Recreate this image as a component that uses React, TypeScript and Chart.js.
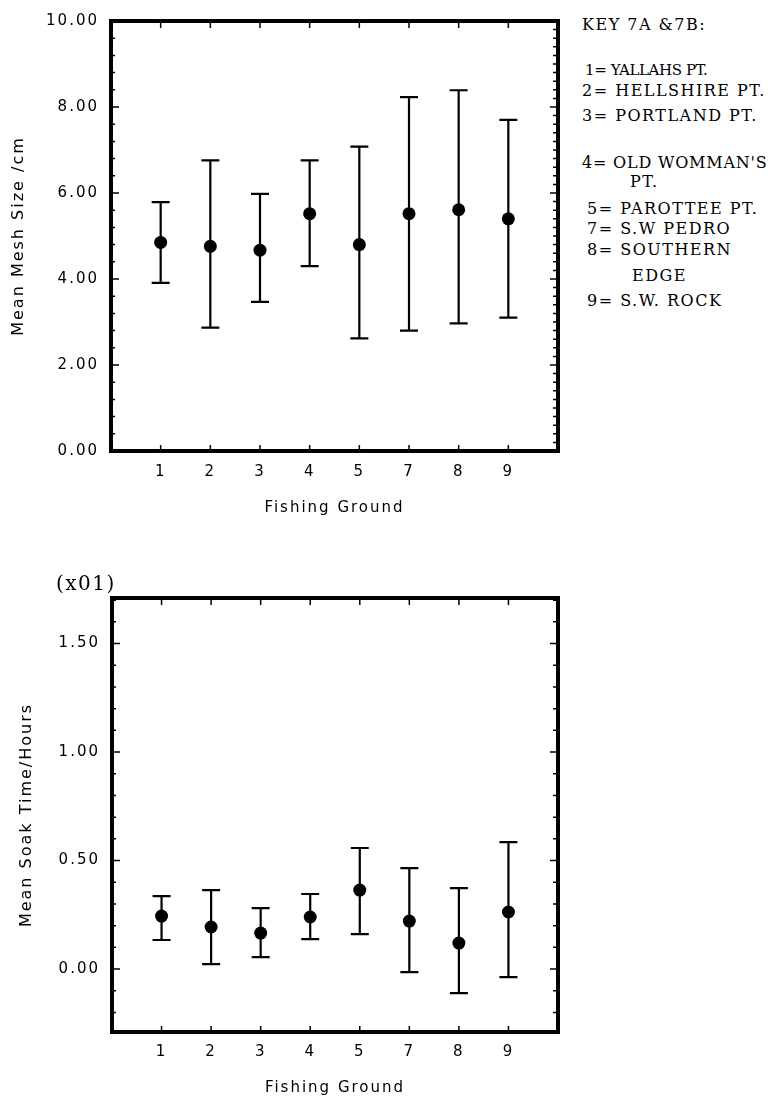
import { useEffect, useRef } from 'react';
import { Chart, registerables } from 'chart.js';

Chart.register(...registerables);

// ---- data ----
const groundLabels = ['1', '2', '3', '4', '5', '7', '8', '9'];

const meshMean = [4.85, 4.76, 4.67, 5.52, 4.8, 5.52, 5.61, 5.4];
const meshUpper = [5.79, 6.76, 5.98, 6.76, 7.08, 8.23, 8.39, 7.7];
const meshLower = [3.91, 2.87, 3.47, 4.3, 2.62, 2.8, 2.97, 3.1];
const meshTicks = [0, 2, 4, 6, 8, 10];

const soakMean = [0.244, 0.194, 0.166, 0.24, 0.364, 0.221, 0.12, 0.263];
const soakUpper = [0.336, 0.364, 0.281, 0.346, 0.558, 0.465, 0.373, 0.585];
const soakLower = [0.134, 0.023, 0.055, 0.138, 0.161, -0.014, -0.111, -0.037];
const soakTicks = [0, 0.5, 1.0, 1.5];

const keyLines = [
  'KEY 7A &7B:',
  '1= YALLAHS PT.',
  '2= HELLSHIRE PT.',
  '3= PORTLAND PT.',
  "4= OLD WOMMAN'S",
  'PT.',
  '5= PAROTTEE PT.',
  '7= S.W PEDRO',
  '8= SOUTHERN',
  'EDGE',
  '9= S.W. ROCK',
];
// layout for key lines: [left, centerY, fontSize, letterSpacing]
const keyLayout: [number, number, number, number][] = [
  [582, 25, 16, 1.5],
  [585, 70, 15, -0.4],
  [582, 91, 16, 1.5],
  [582, 116, 16, 1.5],
  [582, 163, 16, 0.8],
  [630, 182, 16, 1.5],
  [587, 209, 16, 1.5],
  [587, 229, 16, 1.5],
  [587, 250, 16, 1.5],
  [632, 276, 16, 1.5],
  [587, 301, 16, 1.5],
];

const SANS = 'DejaVu Sans';

type Spec = {
  means: number[];
  upper: number[];
  lower: number[];
  yTicks: number[];
  yMin: number;
  yMax: number;
  yTitle: string;
  padTop: number;
  padRight: number;
  yAxisWidth: number;
  xAxisHeight: number;
  xTickPad: number;
  xTitlePad: number;
  yTitlePad: number;
  major: number;
  minorLeft: number;
  minorRight: number;
};

function makePlugin(spec: Spec) {
  return {
    id: 'frameTicks',
    beforeDraw(chart: any) {
      chart.ctx.letterSpacing = '2px';
    },
    afterDatasetsDraw(chart: any) {
      const { ctx, chartArea: a, scales } = chart;
      const x = scales.x;
      const y = scales.y;
      ctx.save();
      ctx.letterSpacing = '0px';
      ctx.strokeStyle = '#000';
      ctx.lineCap = 'butt';
      // error bars
      ctx.lineWidth = 2.2;
      for (let i = 0; i < spec.means.length; i++) {
        const px = x.getPixelForValue(i + 1);
        const yu = y.getPixelForValue(spec.upper[i]);
        const yl = y.getPixelForValue(spec.lower[i]);
        ctx.beginPath();
        ctx.moveTo(px, yu);
        ctx.lineTo(px, yl);
        ctx.moveTo(px - 9, yu);
        ctx.lineTo(px + 9, yu);
        ctx.moveTo(px - 9, yl);
        ctx.lineTo(px + 9, yl);
        ctx.stroke();
      }
      // axis ticks
      ctx.lineWidth = 1.5;
      const isMajor = (v: number) => Math.abs(v / spec.major - Math.round(v / spec.major)) < 1e-6;
      const drawSide = (step: number, side: 'left' | 'right') => {
        const k0 = Math.ceil(y.min / step - 1e-9);
        const k1 = Math.floor(y.max / step + 1e-9);
        ctx.beginPath();
        for (let k = k0; k <= k1; k++) {
          const v = k * step;
          const py = y.getPixelForValue(v);
          const len = isMajor(v) ? 8 : side === 'left' ? 4 : 5;
          if (side === 'left') {
            ctx.moveTo(a.left, py);
            ctx.lineTo(a.left + len, py);
          } else {
            ctx.moveTo(a.right, py);
            ctx.lineTo(a.right - len, py);
          }
        }
        ctx.stroke();
      };
      drawSide(spec.minorLeft, 'left');
      drawSide(spec.minorRight, 'right');
      ctx.beginPath();
      for (let i = 0; i < groundLabels.length; i++) {
        const px = x.getPixelForValue(i + 1);
        ctx.moveTo(px, a.top);
        ctx.lineTo(px, a.top + 7);
        ctx.moveTo(px, a.bottom);
        ctx.lineTo(px, a.bottom - 6);
      }
      ctx.stroke();
      // frame
      ctx.lineWidth = 4;
      ctx.strokeRect(a.left, a.top, a.right - a.left, a.bottom - a.top);
      ctx.restore();
    },
  };
}

function makeConfig(spec: Spec): any {
  return {
    type: 'scatter',
    data: {
      datasets: [
        {
          data: spec.means.map((m, i) => ({ x: i + 1, y: m })),
          pointRadius: 6.5,
          pointHoverRadius: 6.5,
          pointBackgroundColor: '#000',
          pointBorderColor: '#000',
          pointBorderWidth: 0,
        },
      ],
    },
    options: {
      animation: false,
      responsive: false,
      events: [],
      layout: { padding: { top: spec.padTop, right: spec.padRight, left: 0, bottom: 0 } },
      plugins: { legend: { display: false }, tooltip: { enabled: false } },
      scales: {
        x: {
          type: 'linear',
          min: 0,
          max: 9,
          grid: { display: false, drawTicks: false },
          border: { display: false },
          afterBuildTicks: (s: any) => {
            s.ticks = groundLabels.map((_, i) => ({ value: i + 1 }));
          },
          ticks: {
            autoSkip: false,
            maxRotation: 0,
            color: '#000',
            padding: spec.xTickPad,
            font: { family: SANS, size: 15 },
            callback: (_v: any, i: number) => groundLabels[i],
          },
          title: {
            display: true,
            text: 'Fishing Ground',
            color: '#000',
            font: { family: SANS, size: 15 },
            padding: { top: 0, bottom: spec.xTitlePad },
          },
          afterFit: (s: any) => {
            s.height = spec.xAxisHeight;
          },
        },
        y: {
          type: 'linear',
          min: spec.yMin,
          max: spec.yMax,
          grid: { display: false, drawTicks: false },
          border: { display: false },
          afterBuildTicks: (s: any) => {
            s.ticks = spec.yTicks.map((v) => ({ value: v }));
          },
          ticks: {
            color: '#000',
            padding: 12,
            font: { family: SANS, size: 15 },
            callback: (v: any) => Number(v).toFixed(2),
          },
          title: {
            display: true,
            text: spec.yTitle,
            color: '#000',
            font: { family: SANS, size: 16 },
            padding: { top: spec.yTitlePad, bottom: 0 },
          },
          afterFit: (s: any) => {
            s.width = spec.yAxisWidth;
          },
        },
      },
    },
    plugins: [makePlugin(spec)],
  };
}

const meshSpec: Spec = {
  means: meshMean,
  upper: meshUpper,
  lower: meshLower,
  yTicks: meshTicks,
  yMin: 0,
  yMax: 10,
  yTitle: 'Mean Mesh Size /cm',
  padTop: 17,
  padRight: 22,
  yAxisWidth: 111,
  xAxisHeight: 89,
  xTickPad: 12,
  xTitlePad: 23,
  yTitlePad: 9,
  major: 2,
  minorLeft: 0.4,
  minorRight: 0.2,
};

const soakSpec: Spec = {
  means: soakMean,
  upper: soakUpper,
  lower: soakLower,
  yTicks: soakTicks,
  yMin: -0.29,
  yMax: 1.71,
  yTitle: 'Mean Soak Time/Hours',
  padTop: 38,
  padRight: 22,
  yAxisWidth: 112,
  xAxisHeight: 68,
  xTickPad: 11,
  xTitlePad: 3,
  yTitlePad: 17,
  major: 0.5,
  minorLeft: 0.1,
  minorRight: 0.1,
};

export default function App() {
  const ref1 = useRef<HTMLCanvasElement>(null);
  const ref2 = useRef<HTMLCanvasElement>(null);

  useEffect(() => {
    const c1 = new Chart(ref1.current as HTMLCanvasElement, makeConfig(meshSpec));
    const c2 = new Chart(ref2.current as HTMLCanvasElement, makeConfig(soakSpec));
    return () => {
      c1.destroy();
      c2.destroy();
    };
  }, []);

  return (
    <div
      style={{
        position: 'absolute',
        left: 0,
        top: 0,
        width: 774,
        height: 1100,
        background: '#fff',
        overflow: 'hidden',
      }}
    >
      <canvas
        ref={ref1}
        width={580}
        height={540}
        style={{ position: 'absolute', left: 0, top: 0, width: 580, height: 540 }}
      />
      <canvas
        ref={ref2}
        width={580}
        height={540}
        style={{ position: 'absolute', left: 0, top: 560, width: 580, height: 540 }}
      />
      {keyLines.map((t, i) => {
        const [lx, cy, fs, ls] = keyLayout[i];
        return (
          <div
            key={i}
            style={{
              position: 'absolute',
              left: lx,
              top: cy - 10,
              height: 20,
              lineHeight: '20px',
              fontFamily: 'DejaVu Serif',
              fontSize: fs,
              letterSpacing: ls,
              whiteSpace: 'nowrap',
              color: '#000',
            }}
          >
            {t}
          </div>
        );
      })}
      <div
        style={{
          position: 'absolute',
          left: 56,
          top: 571,
          height: 24,
          lineHeight: '24px',
          fontFamily: 'DejaVu Serif',
          fontSize: 20,
          letterSpacing: 1.5,
          whiteSpace: 'nowrap',
          color: '#000',
        }}
      >
        (x01)
      </div>
    </div>
  );
}
